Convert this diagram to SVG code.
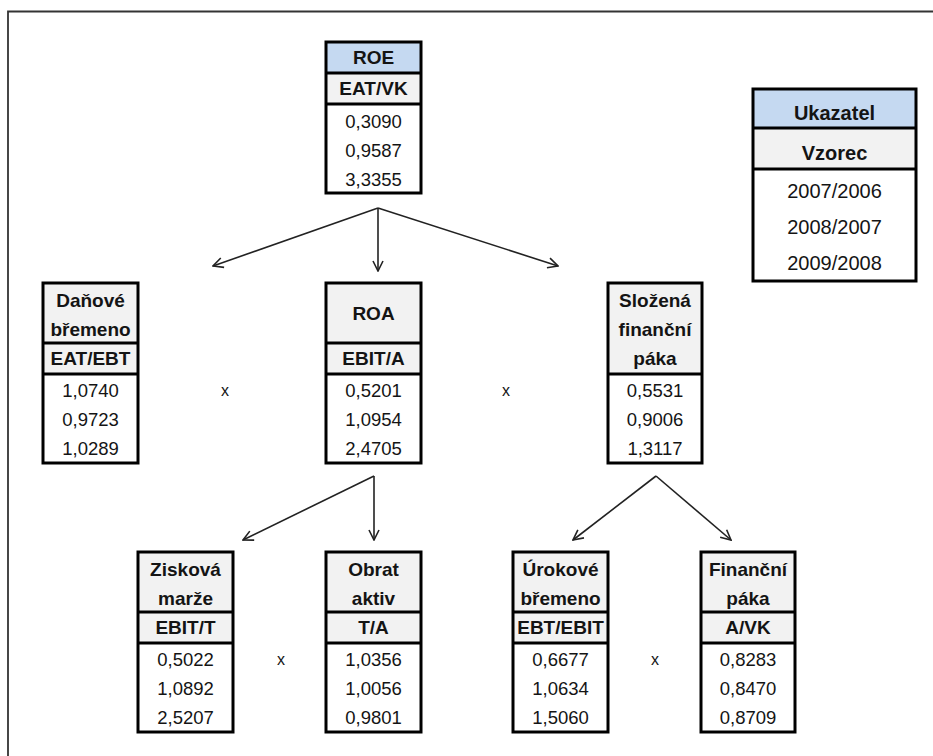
<svg xmlns="http://www.w3.org/2000/svg" width="933" height="756" viewBox="0 0 933 756">
<style>
  text { font-family: "Liberation Sans", Arial, sans-serif; fill: #141414; text-anchor: middle; }
  .b { font-weight: bold; font-size: 19px; }
  .v { font-size: 18.5px; }
  .lb { font-weight: bold; font-size: 20px; }
  .lv { font-size: 20px; }
  .x { font-size: 16px; }
  .blue { fill: #c5d9f1; }
  .grey { fill: #f2f2f2; }
  .white { fill: #ffffff; }
  .cell { stroke: #000; stroke-width: 3; }
  .sep { stroke: #000; stroke-width: 3; }
  .conn { stroke: #222; stroke-width: 1.6; fill: none; marker-end: url(#arr); }
</style>
<defs>
  <marker id="arr" viewBox="0 0 12 12" refX="11" refY="6" markerWidth="12" markerHeight="12" markerUnits="userSpaceOnUse" orient="auto">
    <path d="M1,1 L11,6 L1,11" fill="none" stroke="#222" stroke-width="1.6"/>
  </marker>
</defs>
<rect width="933" height="756" fill="#ffffff"/>
<path d="M8,756 L8,11.5 L933,11.5" fill="none" stroke="#333" stroke-width="1.8"/>

<g id="roe">
  <rect x="326" y="42" width="95" height="31" class="blue"/>
  <rect x="326" y="73" width="95" height="31" class="grey"/>
  <rect x="326" y="104" width="95" height="89" class="white"/>
  <rect x="326" y="42" width="95" height="151" fill="none" class="cell"/>
  <line x1="326" y1="73" x2="421" y2="73" class="sep"/>
  <line x1="326" y1="104" x2="421" y2="104" class="sep"/>
  <text x="373.5" y="64" class="b">ROE</text>
  <text x="373.5" y="95" class="b">EAT/VK</text>
  <text x="373.5" y="128" class="v">0,3090</text>
  <text x="373.5" y="157" class="v">0,9587</text>
  <text x="373.5" y="186" class="v">3,3355</text>
</g>

<g id="legend">
  <rect x="753" y="89" width="163" height="39" class="blue"/>
  <rect x="753" y="128" width="163" height="41" class="grey"/>
  <rect x="753" y="89" width="163" height="192" fill="none" class="cell"/>
  <line x1="753" y1="128" x2="916" y2="128" class="sep"/>
  <line x1="753" y1="169" x2="916" y2="169" class="sep"/>
  <text x="834.5" y="120" class="lb">Ukazatel</text>
  <text x="834.5" y="160" class="lb">Vzorec</text>
  <text x="834.5" y="198" class="lv">2007/2006</text>
  <text x="834.5" y="234" class="lv">2008/2007</text>
  <text x="834.5" y="270" class="lv">2009/2008</text>
</g>

<g id="danove">
  <rect x="43" y="283" width="95" height="91" class="grey"/>
  <rect x="43" y="283" width="95" height="180" fill="none" class="cell"/>
  <line x1="43" y1="343" x2="138" y2="343" class="sep"/>
  <line x1="43" y1="374" x2="138" y2="374" class="sep"/>
  <text x="90.5" y="307" class="b">Daňové</text>
  <text x="90.5" y="336" class="b">břemeno</text>
  <text x="90.5" y="365" class="b">EAT/EBT</text>
  <text x="90.5" y="397" class="v">1,0740</text>
  <text x="90.5" y="426" class="v">0,9723</text>
  <text x="90.5" y="455" class="v">1,0289</text>
</g>

<g id="roa">
  <rect x="326" y="283" width="95" height="91" class="grey"/>
  <rect x="326" y="283" width="95" height="180" fill="none" class="cell"/>
  <line x1="326" y1="343" x2="421" y2="343" class="sep"/>
  <line x1="326" y1="374" x2="421" y2="374" class="sep"/>
  <text x="373.5" y="320" class="b">ROA</text>
  <text x="373.5" y="365" class="b">EBIT/A</text>
  <text x="373.5" y="397" class="v">0,5201</text>
  <text x="373.5" y="426" class="v">1,0954</text>
  <text x="373.5" y="455" class="v">2,4705</text>
</g>

<g id="slozena">
  <rect x="608" y="283" width="94" height="91" class="grey"/>
  <rect x="608" y="283" width="94" height="180" fill="none" class="cell"/>
  <line x1="608" y1="374" x2="702" y2="374" class="sep"/>
  <text x="655" y="307" class="b">Složená</text>
  <text x="655" y="336" class="b">finanční</text>
  <text x="655" y="365" class="b">páka</text>
  <text x="655" y="397" class="v">0,5531</text>
  <text x="655" y="426" class="v">0,9006</text>
  <text x="655" y="455" class="v">1,3117</text>
</g>

<g id="ziskova">
  <rect x="138" y="552" width="95" height="91" class="grey"/>
  <rect x="138" y="552" width="95" height="180" fill="none" class="cell"/>
  <line x1="138" y1="612" x2="233" y2="612" class="sep"/>
  <line x1="138" y1="643" x2="233" y2="643" class="sep"/>
  <text x="185.5" y="576" class="b">Zisková</text>
  <text x="185.5" y="605" class="b">marže</text>
  <text x="185.5" y="634" class="b">EBIT/T</text>
  <text x="185.5" y="666" class="v">0,5022</text>
  <text x="185.5" y="695" class="v">1,0892</text>
  <text x="185.5" y="724" class="v">2,5207</text>
</g>

<g id="obrat">
  <rect x="326" y="552" width="95" height="91" class="grey"/>
  <rect x="326" y="552" width="95" height="180" fill="none" class="cell"/>
  <line x1="326" y1="612" x2="421" y2="612" class="sep"/>
  <line x1="326" y1="643" x2="421" y2="643" class="sep"/>
  <text x="373.5" y="576" class="b">Obrat</text>
  <text x="373.5" y="605" class="b">aktiv</text>
  <text x="373.5" y="634" class="b">T/A</text>
  <text x="373.5" y="666" class="v">1,0356</text>
  <text x="373.5" y="695" class="v">1,0056</text>
  <text x="373.5" y="724" class="v">0,9801</text>
</g>

<g id="urokove">
  <rect x="513" y="552" width="95" height="91" class="grey"/>
  <rect x="513" y="552" width="95" height="180" fill="none" class="cell"/>
  <line x1="513" y1="612" x2="608" y2="612" class="sep"/>
  <line x1="513" y1="643" x2="608" y2="643" class="sep"/>
  <text x="560.5" y="576" class="b">Úrokové</text>
  <text x="560.5" y="605" class="b">břemeno</text>
  <text x="560.5" y="634" class="b">EBT/EBIT</text>
  <text x="560.5" y="666" class="v">0,6677</text>
  <text x="560.5" y="695" class="v">1,0634</text>
  <text x="560.5" y="724" class="v">1,5060</text>
</g>

<g id="financni">
  <rect x="701" y="552" width="94" height="91" class="grey"/>
  <rect x="701" y="552" width="94" height="180" fill="none" class="cell"/>
  <line x1="701" y1="612" x2="795" y2="612" class="sep"/>
  <line x1="701" y1="643" x2="795" y2="643" class="sep"/>
  <text x="748" y="576" class="b">Finanční</text>
  <text x="748" y="605" class="b">páka</text>
  <text x="748" y="634" class="b">A/VK</text>
  <text x="748" y="666" class="v">0,8283</text>
  <text x="748" y="695" class="v">0,8470</text>
  <text x="748" y="724" class="v">0,8709</text>
</g>

<g id="operators">
  <text x="225" y="396" class="x">x</text>
  <text x="506" y="396" class="x">x</text>
  <text x="281" y="665" class="x">x</text>
  <text x="655" y="665" class="x">x</text>
</g>

<g id="connectors">
  <line x1="378" y1="208" x2="213" y2="266" class="conn"/>
  <line x1="378" y1="208" x2="378" y2="271" class="conn"/>
  <line x1="378" y1="208" x2="558" y2="266" class="conn"/>
  <line x1="374" y1="476" x2="243" y2="540" class="conn"/>
  <line x1="374" y1="476" x2="374" y2="540" class="conn"/>
  <line x1="656" y1="476" x2="573" y2="540" class="conn"/>
  <line x1="656" y1="476" x2="731" y2="540" class="conn"/>
</g>
</svg>
